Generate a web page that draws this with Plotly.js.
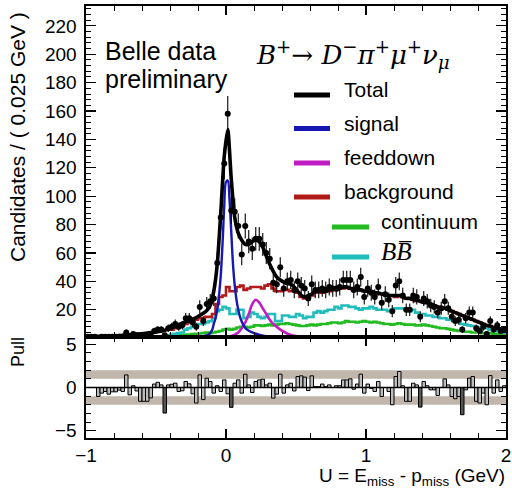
<!DOCTYPE html>
<html><head><meta charset="utf-8">
<script src="https://cdn.plot.ly/plotly-3.0.1.min.js"></script>
<style>html,body{margin:0;padding:0;background:#fff}#chart{width:512px;height:498px}</style>
</head><body><div id="chart"></div>
<script>
// ---- binning (0.025 GeV bins from -1 to 2) ----
const binLow = -1, binWidth = 0.025, nBins = 120;

// ---- data: candidates per bin ----
const dataCounts = [
  1,1,1,0,1,1,1,1,1,1,
  1,4,1,3,2,1,1,1,2,5,
  6,6,2,7,8,10,8,9,14,14,
  11,8,22,12,24,26,28,53,85,123,
  158,90,89,79,59,79,68,63,70,70,
  66,60,56,39,38,50,35,40,41,34,
  40,37,35,28,38,34,34,35,34,36,
  35,35,36,41,41,41,34,36,43,29,
  35,32,29,36,25,31,27,19,37,40,
  30,20,20,30,29,15,28,26,23,22,
  18,21,26,21,15,12,13,6,14,18,
  18,7,5,8,3,12,6,9,5,6
];

// ---- fit: total ----
const totalFit = [
  1.2,1.2,1.3,1.3,1.4,1.4,1.5,1.6,1.7,1.8,
  2.0,2.2,2.4,2.6,2.8,3.0,3.3,3.6,3.9,4.2,
  4.5,5.0,5.5,6.5,7.5,8.5,9.5,10.5,11.5,12.5,
  13.5,14.5,16,17.5,19.5,23,33,52,88,128,
  147,112,85,74,69,66,66,68,69,68,
  64,58,52,47,43,41,39.5,38.5,38,36,
  33,30,29,30,31,33,34,33,33,34,
  35,34,35,36,36,35,35,34,34,33,
  33,33,32,32,31,31,30,30,30,30,
  29,28,28,27,27,26,25,25,24,23,
  22,21,21,20,19,18,17,16,15,14,
  13,12,11,10,9,8.5,7.5,7,6.5,6
];

// ---- background (histogram) ----
const backgroundHist = [
  null,null,null,null,null,null,null,null,null,null,
  null,null,null,null,null,null,null,null,null,null,
  null,null,null,null,6,7,8,9,10,11,
  12,13,14,14,15,15,17,24,29,30,
  36,33,33,36,37,34,35,36,36,36,
  35,37,38,35,33,33,34,34,33,33,
  32,29,28,29,30,32,33,32,33,33,
  34,34,35,35,36,35,34,34,34,33,
  33,32,32,31,31,31,30,30,29,30,
  29,28,28,27,26,26,25,25,24,23,
  22,21,21,20,19,18,17,16,15,14,
  13,12,11,10,9,8.5,7.5,7,6.5,6
];

// ---- B Bbar (histogram) ----
const bbHist = [
  null,null,null,null,null,null,null,null,null,null,
  null,null,null,null,null,null,null,null,null,null,
  null,null,1.5,2,2.5,3,3.5,4,6,7,
  8,9,10,10,11,12,14,19,20,22,
  21,17,17,20,20,14,15,18,17,15,
  14,15,17,17,12,12,16,16,15,15,
  17,16,14,15,15,18,19,18,19,20,
  20,22,21,23,23,22,22,21,20,21,
  21,22,21,20,20,20,19,20,21,21,
  21,20,19,20,18,17,17,16,16,15,
  15,14,14,13,13,12,11,10,9.5,9,
  8.5,8,7.5,7,7,6,5.5,5,4.5,4
];

// ---- continuum (histogram) ----
const continuumHist = [
  null,null,null,null,null,null,null,null,null,null,
  null,null,null,null,null,null,null,null,null,null,
  1,1,1.2,1.4,1.6,1.8,2,2.2,2.4,2.6,
  2.8,3,3.3,3.6,4,3.5,4,4.5,5,6,
  6.5,6,6.5,7.5,8,8,7.5,8,9,9,
  8.5,9,9.5,9,9.5,10,10,10.5,10,9.5,
  9,8.5,8.5,9,9.5,9,9.5,10,10,10.5,
  11,11,10.5,11,12,11.5,11.5,11,11.5,12,
  11.5,11,11.5,11,10.5,10,10,9.5,10,10.5,
  10,9.5,9.5,9.5,9,9,9.5,9,8.5,8,
  7.5,7,7,6.5,6,5.5,5,5,4.5,4.5,
  4,4,4,3.5,3.5,3.5,3,3,3,3
];

// ---- feeddown ----
const feeddownCurve = [
  null,null,null,null,null,null,null,null,null,null,
  null,null,null,null,null,null,null,null,null,null,
  null,null,null,null,null,null,null,null,null,null,
  null,null,null,null,null,null,0.1,0.2,0.4,0.6,
  1.0,1.5,2.5,4,7,11,17,24,27,25,
  21,17,13,10,8,6,4.5,3.3,2.3,1.6,
  1.1,0.7,0.4,0.25,0.15,0.1,null,null,null,null,
  null,null,null,null,null,null,null,null,null,null,
  null,null,null,null,null,null,null,null,null,null,
  null,null,null,null,null,null,null,null,null,null,
  null,null,null,null,null,null,null,null,null,null,
  null,null,null,null,null,null,null,null,null,null
];

// ---- signal (smooth curve) ----
const signalU = [-0.35,-0.3,-0.25,-0.2,-0.15,-0.125,-0.1,-0.0875,-0.075,-0.0625,-0.05,-0.0375,-0.025,-0.0125,0,0.0125,0.025,0.0375,0.05,0.0625,0.075,0.0875,0.1,0.125,0.15,0.2,0.25,0.3,0.35,0.4,0.45,0.5,0.55];
const signalCurve = [0.2,0.3,0.5,0.9,1.8,2.6,5.5,10,14,20,30,44,66,93,110,111,98,75,52,37,27,20,15,9,6,3.5,2.1,1.2,0.7,0.4,0.2,0.1,0.05];

// ---- pulls ----
const pullValues = [
  0,0,0,-1.04,-0.65,-0.46,-0.77,-0.5,-0.5,-0.3,
  -0.46,1.46,-0.85,0.2,-0.4,-1.6,-1.6,-1.6,-1.2,0.4,
  0.6,0.3,-2.96,0.3,0.38,0.5,-0.46,-0.38,0.7,0.42,
  -0.73,-1.8,1.46,-1.4,1.08,0.7,-0.65,0.2,-0.46,0.88,
  -0.73,-2.3,0.5,0.88,-0.65,1.54,0.3,-0.58,0.7,0.88,
  0.96,0.3,0.5,-1.23,-0.77,1.54,-0.65,0.3,0.5,-0.4,
  1.27,1.35,1.2,-0.35,1.35,0.1,0.1,0.4,0.1,0.3,
  0,0.2,0.2,0.88,0.88,1.0,-0.2,0.4,1.54,-0.65,
  0.4,-0.1,-0.46,0.7,-1.04,0,-0.46,-2.0,1.27,1.85,
  0.2,-1.6,-1.6,0.5,0.3,-2.27,0.7,0.2,-0.27,-0.27,
  -0.92,0,1.0,0.3,-1.04,-1.3,-1.04,-3.15,-0.27,1.08,
  1.27,-1.6,-1.8,-0.65,-2.0,1.38,-0.65,0.88,-0.46,0.2
];

// ---- ticks & labels ----
const xTickVals = [-1, 0, 1, 2];
const yTickVals = [20,40,60,80,100,120,140,160,180,200,220];
const pullTickVals = [-5, 0, 5];
const legendNames = ['Total','signal','feeddown','background','continuum','<i>B</i><i>B̅</i>'];

// ---- derived bin geometry ----
const centers = Array.from({length:nBins}, (_, i) => binLow + binWidth*(i+0.5));
const lowEdges = Array.from({length:nBins}, (_, i) => binLow + binWidth*i);
function stepXY(vals){
  const x = lowEdges.slice(); const y = vals.slice();
  x.push(binLow + binWidth*nBins); y.push(vals[vals.length-1]);
  return {x, y};
}

const C = {total:'#000000', signal:'#1717b3', feed:'#c21cc4', bkg:'#b21a1a', cont:'#22bb22', bb:'#22bcbc'};

function histTrace(vals, color){
  const s = stepXY(vals);
  return {x:s.x, y:s.y, type:'scatter', mode:'lines', line:{color, width:2.6, shape:'hv'},
          connectgaps:false, hoverinfo:'skip', showlegend:false, xaxis:'x', yaxis:'y'};
}

const traces = [
  histTrace(continuumHist, C.cont),
  histTrace(bbHist, C.bb),
  histTrace(backgroundHist, C.bkg),
  {x:centers, y:feeddownCurve, type:'scatter', mode:'lines', line:{color:C.feed, width:2.6, shape:'spline'},
   connectgaps:false, hoverinfo:'skip', showlegend:false, xaxis:'x', yaxis:'y'},
  {x:signalU, y:signalCurve, type:'scatter', mode:'lines', line:{color:C.signal, width:2.4, shape:'spline'},
   hoverinfo:'skip', showlegend:false, xaxis:'x', yaxis:'y'},
  {x:centers, y:totalFit, type:'scatter', mode:'lines', line:{color:C.total, width:3.6, shape:'spline', smoothing:0.6},
   hoverinfo:'skip', showlegend:false, xaxis:'x', yaxis:'y'},
  {x:centers, y:dataCounts, type:'scatter', mode:'markers', marker:{color:'#000', size:6},
   error_y:{type:'data', array:dataCounts.map(v=>Math.sqrt(v)), visible:true, color:'#000', thickness:1.1, width:0},
   hoverinfo:'skip', showlegend:false, xaxis:'x', yaxis:'y'},
  {x:centers, y:pullValues, type:'bar', width:binWidth,
   marker:{color:pullValues.map(p => Math.abs(p) > 2 ? '#555555' : '#bdbdbd'), line:{color:'#000', width:1}},
   hoverinfo:'skip', showlegend:false, xaxis:'x2', yaxis:'y2'}
];

// layout geometry in paper units (plot area 86..506 x 6..438 px)
const PX = x => (x-86)/420, PY = y => (438-y)/432;
const splitY = PY(337);

const axisCommon = {ticks:'inside', mirror:'allticks', showline:true, linecolor:'#000', linewidth:1.6,
  tickcolor:'#000', tickwidth:1.1, showgrid:false, zeroline:false, fixedrange:true};

const shapes = [
  {type:'rect', xref:'paper', yref:'y2', x0:0, x1:1, y0:1, y1:2, fillcolor:'#c1b6ab', line:{width:0}, layer:'below'},
  {type:'rect', xref:'paper', yref:'y2', x0:0, x1:1, y0:-2, y1:-1, fillcolor:'#c1b6ab', line:{width:0}, layer:'below'},
  {type:'line', xref:'paper', yref:'y2', x0:0, x1:1, y0:0, y1:0, line:{color:'#000', width:1.5}, layer:'above'}
];
const legendLines = [
  {c:C.total, x0:294, x1:330, y:95},
  {c:C.signal, x0:294, x1:330, y:128.5},
  {c:C.feed, x0:294, x1:330, y:163},
  {c:C.bkg, x0:294, x1:330, y:197},
  {c:C.cont, x0:332, x1:369, y:227},
  {c:C.bb, x0:332, x1:369, y:257}
];
const legendText = [
  {x:342, y:89.5}, {x:342, y:123}, {x:342, y:157.5}, {x:342, y:191.5}, {x:379, y:221.5}, {x:379, y:251.5}
];
legendLines.forEach(l => shapes.push({type:'line', xref:'paper', yref:'paper', x0:PX(l.x0), x1:PX(l.x1), y0:PY(l.y), y1:PY(l.y), line:{color:l.c, width:5}}));

const annotations = legendText.map((t, i) => ({
  xref:'paper', yref:'paper', x:PX(t.x), y:PY(t.y), xanchor:'left', yanchor:'middle', showarrow:false,
  text:legendNames[i], font: i===5 ? {family:'Liberation Serif, DejaVu Serif, serif', size:25, color:'#000'} : {family:'Liberation Sans, Arial, sans-serif', size:21, color:'#000'}
}));
annotations.push(
  {xref:'paper', yref:'paper', x:PX(104), y:PY(50.5), xanchor:'left', yanchor:'middle', showarrow:false, borderpad:0,
   text:'Belle data', font:{family:'Liberation Sans, Arial, sans-serif', size:25, color:'#000'}},
  {xref:'paper', yref:'paper', x:PX(104), y:PY(79.5), xanchor:'left', yanchor:'middle', showarrow:false, borderpad:0,
   text:'preliminary', font:{family:'Liberation Sans, Arial, sans-serif', size:25, color:'#000'}},
  {xref:'paper', yref:'paper', x:PX(254), y:PY(54), xanchor:'left', yanchor:'middle', showarrow:false,
   text:'<i>B</i><sup>+</sup>→ <i>D</i><sup>−</sup><i>π</i><sup>+</sup><i>μ</i><sup>+</sup><i>ν</i><sub><i>μ</i></sub>',
   font:{family:'DejaVu Serif, Liberation Serif, serif', size:26, color:'#000'}},
  {xref:'paper', yref:'paper', x:PX(18), y:PY(137), xanchor:'center', yanchor:'middle', showarrow:false, textangle:-90,
   text:'Candidates / ( 0.025 GeV )', font:{family:'Liberation Sans, Arial, sans-serif', size:21, color:'#000'}},
  {xref:'paper', yref:'paper', x:PX(18), y:PY(352), xanchor:'center', yanchor:'middle', showarrow:false, textangle:-90,
   text:'Pull', font:{family:'Liberation Sans, Arial, sans-serif', size:18, color:'#000'}},
  {xref:'paper', yref:'paper', x:PX(507), y:PY(477), xanchor:'right', yanchor:'middle', showarrow:false,
   text:'U = E<sub>miss</sub> - p<sub>miss</sub> (GeV)', font:{family:'Liberation Sans, Arial, sans-serif', size:19, color:'#000'}}
);

const layout = {
  width:512, height:498,
  margin:{l:86, r:6, t:6, b:60, pad:0},
  paper_bgcolor:'#ffffff', plot_bgcolor:'rgba(0,0,0,0)',
  showlegend:false, bargap:0,
  font:{family:'Liberation Sans, Arial, sans-serif', size:19, color:'#000'},
  xaxis:Object.assign({}, axisCommon, {domain:[0,1], anchor:'y', range:[-1,2], tickvals:xTickVals, showticklabels:false,
    ticklen:9, minor:{tick0:-1, dtick:0.2, ticks:'inside', ticklen:5, tickcolor:'#000', tickwidth:1}}),
  yaxis:Object.assign({}, axisCommon, {domain:[splitY,1], anchor:'x', range:[0.8,234], tickvals:yTickVals,
    ticklen:10, ticklabelstandoff:4, minor:{tick0:0, dtick:4, ticks:'inside', ticklen:5, tickcolor:'#000', tickwidth:1}}),
  xaxis2:Object.assign({}, axisCommon, {domain:[0,1], anchor:'y2', matches:'x', range:[-1,2], tickvals:xTickVals,
    ticktext:['−1','0','1','2'], ticklen:9, minor:{tick0:-1, dtick:0.2, ticks:'inside', ticklen:5, tickcolor:'#000', tickwidth:1}}),
  yaxis2:Object.assign({}, axisCommon, {domain:[0,splitY], anchor:'x2', range:[-5.85,5.85], tickvals:pullTickVals,
    ticktext:['−5','0','5'], ticklen:10, ticklabelstandoff:4, minor:{tick0:0, dtick:1, ticks:'inside', ticklen:5, tickcolor:'#000', tickwidth:1}}),
  shapes, annotations
};

Plotly.newPlot('chart', traces, layout, {staticPlot:true, displayModeBar:false});
</script>
</body></html>
